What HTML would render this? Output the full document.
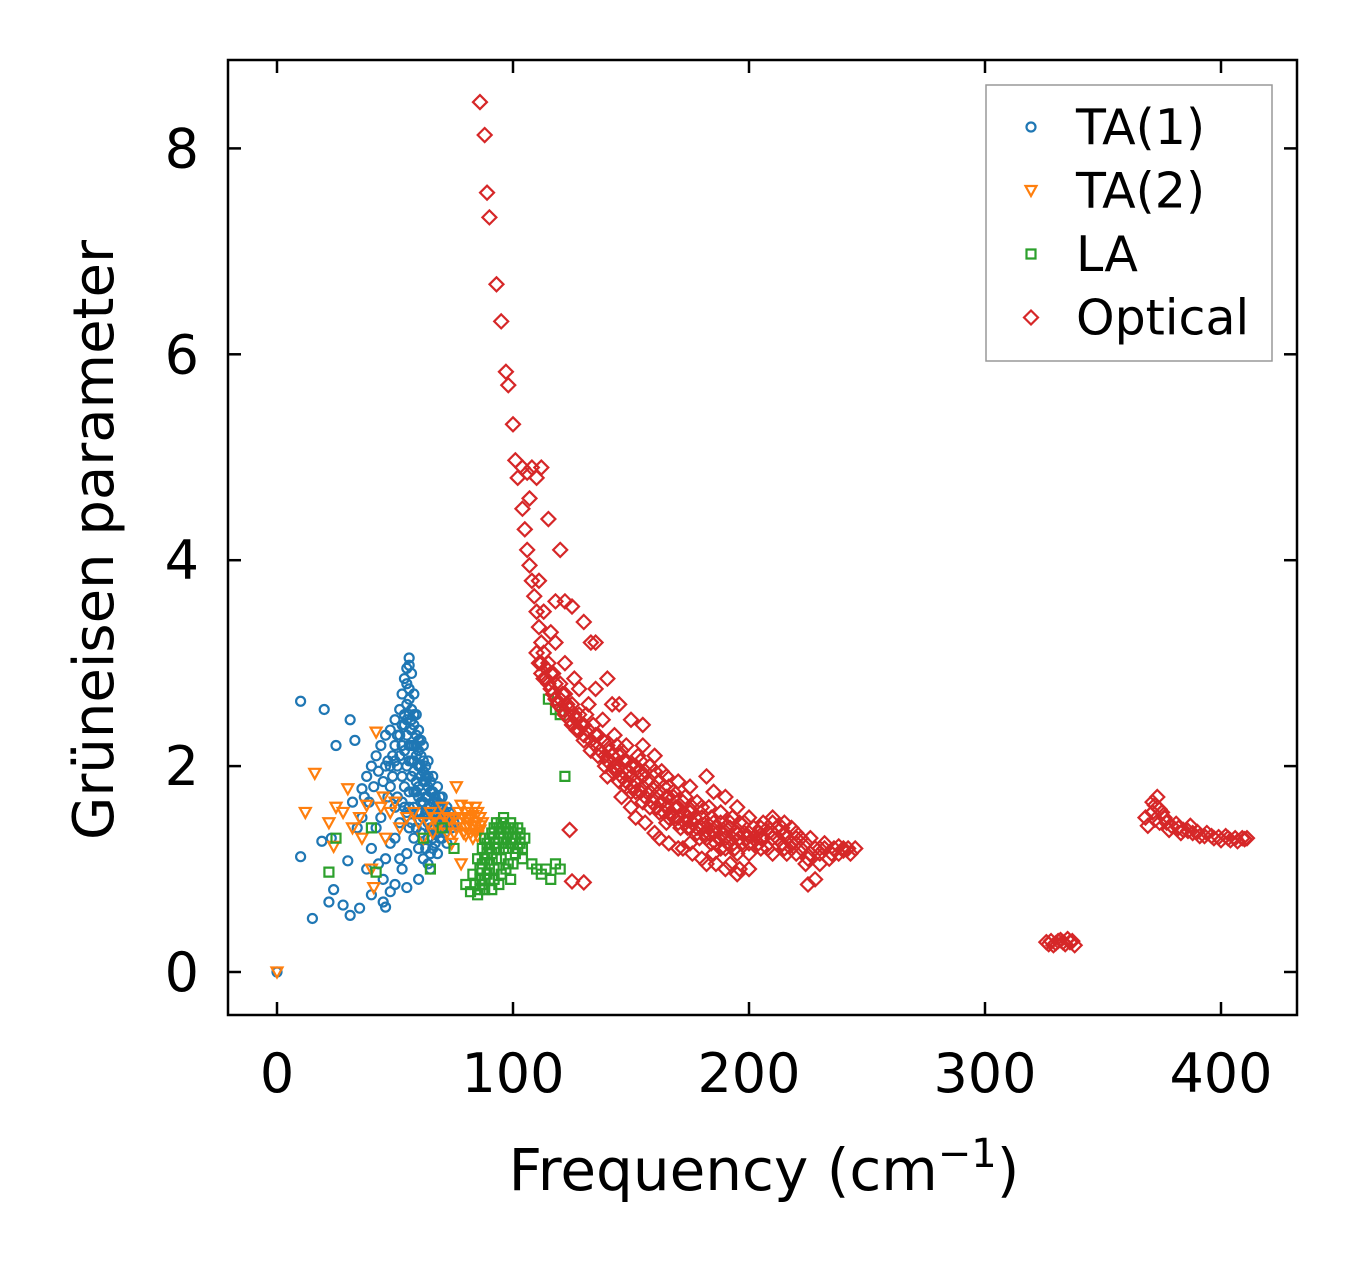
<!DOCTYPE html>
<html><head><meta charset="utf-8"><style>
body{margin:0;background:#fff;}
svg{display:block;font-family:"DejaVu Sans","Liberation Sans",sans-serif;}
</style></head><body>
<svg id="chart" width="1357" height="1264" viewBox="0 0 1357 1264" xmlns="http://www.w3.org/2000/svg">
<rect width="1357" height="1264" fill="#fff"/>
<g id="marks"></g>
<rect x="228" y="60" width="1069" height="955" fill="none" stroke="#000" stroke-width="2.5"/>
<g id="ticks"></g>
<text x="764" y="1190" font-size="58" text-anchor="middle">Frequency (cm<tspan font-size="40" dy="-23">−1</tspan><tspan dy="23">)</tspan></text>
<text transform="translate(113,540) rotate(-90)" font-size="56" text-anchor="middle">Grüneisen parameter</text>
<g>
<rect x="986" y="85" width="286" height="276" fill="#fff" stroke="#999" stroke-width="1.5"/>
<g id="legend-items"></g>
</g>
</svg>
<script>
const xTicks=[0,100,200,300,400];
const yTicks=[0,2,4,6,8];
const seriesNames=["TA(1)","TA(2)","LA","Optical"];
const ta1=[[0,0],[10,2.63],[10,1.12],[20,2.55],[25,2.2],[31,2.45],[33,2.25],[15,0.52],[22,0.68],[24,0.8],[28,0.65],[31,0.55],[35,0.62],[40,0.75],[45,0.68],[46,0.63],[19,1.27],[23,1.3],[30,1.08],[32,1.65],[36,1.78],[38,1.9],[40,2.0],[42,2.1],[44,2.2],[46,2.3],[48,2.35],[50,2.45],[52,2.55],[53,2.7],[54,2.85],[55,2.95],[56,3.05],[56,2.98],[57,2.9],[58,2.7],[59,2.5],[60,2.35],[62,2.2],[64,2.05],[66,1.9],[68,1.8],[70,1.7],[72,1.6],[74,1.5],[70,1.3],[65,1.0],[60,0.9],[55,0.82],[50,0.85],[48,0.78],[52,1.1],[56,1.4],[58,1.6],[60,1.8],[62,1.5],[64,1.3],[66,1.2],[68,1.15],[50,1.6],[48,1.8],[46,2.0],[44,1.5],[42,1.4],[40,1.2],[38,1.0],[36,1.5],[34,1.4],[55,2.0],[57,2.2],[53,1.9],[51,1.7],[54,2.4],[55,2.6],[56,2.75],[57,2.55],[58,2.4],[58,2.2],[59,2.1],[60,2.0],[61,2.25],[61,1.9],[62,1.85],[63,2.0],[63,1.7],[64,1.8],[65,1.75],[65,1.6],[66,1.65],[67,1.7],[67,1.5],[68,1.55],[69,1.6],[69,1.45],[70,1.5],[71,1.55],[72,1.4],[73,1.45],[52,2.3],[53,2.2],[54,2.15],[50,2.2],[51,2.0],[49,2.1],[47,2.05],[47,1.7],[45,1.85],[43,1.95],[41,1.8],[39,1.65],[37,1.7],[57,1.9],[59,1.75],[61,1.65],[56,1.75],[54,1.6],[52,1.45],[50,1.3],[48,1.25],[46,1.1],[58,1.3],[60,1.2],[62,1.1],[64,1.05],[55,1.15],[53,1.0],[45,0.9],[43,1.05],[66,1.4],[68,1.35],[70,1.4],[72,1.25],[56,2.5],[55,2.3],[58,2.05],[55,2.8],[56,2.65],[57,2.45],[57,2.35],[58,2.5],[59,2.3],[59,2.2],[60,2.15],[60,2.25],[61,2.1],[61,2.0],[62,2.05],[62,1.95],[63,1.9],[63,1.85],[64,1.9],[64,1.7],[65,1.85],[66,1.75],[66,1.55],[67,1.6],[68,1.65],[68,1.45],[69,1.7],[70,1.6],[71,1.45],[72,1.5],[73,1.55],[74,1.4],[75,1.45],[54,2.5],[55,2.45],[56,2.2],[56,2.05],[57,2.05],[58,1.95],[59,1.85],[60,1.7],[61,1.55],[62,1.65],[63,1.55],[64,1.45],[65,1.4],[66,1.3],[67,1.35],[53,2.4],[52,2.1],[51,2.3],[50,2.05],[49,1.9],[48,2.0],[54,1.8],[53,1.65],[55,1.55],[57,1.45],[59,1.4],[61,1.35],[63,1.2],[65,1.15],[67,1.25],[69,1.3],[71,1.35],[60,1.55],[58,1.75],[56,1.6]];
const ta2=[[0,0],[12,1.55],[16,1.93],[22,1.45],[25,1.6],[24,1.22],[30,1.78],[35,1.5],[38,1.62],[40,1.0],[41,0.82],[42,2.33],[45,1.7],[48,1.55],[50,1.65],[55,1.5],[60,1.45],[65,1.55],[70,1.6],[75,1.5],[76,1.8],[78,1.05],[80,1.4],[82,1.5],[84,1.45],[86,1.38],[85,1.55],[83,1.3],[81,1.6],[79,1.35],[77,1.45],[74,1.25],[72,1.35],[68,1.4],[62,1.3],[58,1.55],[52,1.4],[46,1.3],[44,1.6],[36,1.3],[32,1.4],[28,1.55],[84,1.6],[86,1.5],[83,1.42],[81,1.48],[80,1.55],[78,1.62],[87,1.45],[82,1.35],[84,1.38],[85,1.32],[86,1.42],[83,1.52],[81,1.42],[80,1.33],[79,1.5],[77,1.55],[76,1.4],[75,1.35],[73,1.48],[71,1.5],[69,1.45],[67,1.5],[64,1.45],[66,1.35]];
const la=[[22,0.97],[25,1.3],[40,1.4],[42,0.97],[62,1.3],[65,1.0],[70,1.4],[75,1.2],[80,0.85],[82,0.78],[85,0.75],[88,0.8],[90,0.9],[92,1.0],[95,1.1],[98,1.2],[100,1.3],[102,1.4],[96,1.5],[93,1.45],[88,1.3],[85,1.1],[83,0.95],[90,1.2],[94,0.85],[99,0.9],[104,1.1],[108,1.05],[110,1.0],[112,0.95],[114,1.0],[116,0.9],[118,1.05],[120,1.0],[115,2.65],[118,2.55],[120,2.5],[122,1.9],[87,1.05],[91,1.35],[97,1.25],[101,1.15],[103,1.25],[86,0.9],[89,1.15],[95,1.35],[99,1.45],[105,1.3],[92,1.25],[94,1.4],[96,1.2],[98,1.35],[100,1.05],[89,0.95],[91,0.8],[87,1.2],[93,1.1],[102,1.2],[84,0.85],[90,1.05],[86,1.0],[88,1.1],[89,1.25],[90,1.3],[91,1.15],[92,1.4],[93,1.2],[94,1.3],[95,1.45],[96,1.3],[97,1.4],[98,1.05],[99,1.25],[100,1.4],[101,1.3],[103,1.35],[104,1.2],[88,0.9],[86,0.8],[92,0.9],[95,0.95],[97,1.0],[90,1.0],[87,0.85]];
const optical=[[86,8.45],[88,8.13],[89,7.57],[90,7.33],[93,6.68],[95,6.32],[97,5.83],[98,5.7],[100,5.32],[101,4.97],[102,4.8],[104,4.9],[106,4.85],[108,4.9],[110,4.8],[104,4.5],[105,4.3],[106,4.1],[107,3.95],[108,3.8],[109,3.65],[110,3.5],[111,3.35],[112,3.2],[113,3.1],[115,3.0],[117,2.9],[120,2.8],[122,2.7],[125,2.6],[128,2.5],[130,2.4],[135,2.3],[140,2.2],[145,2.1],[150,2.0],[155,1.9],[160,1.8],[165,1.7],[170,1.6],[175,1.55],[180,1.5],[185,1.45],[190,1.4],[200,1.35],[210,1.3],[220,1.25],[230,1.2],[240,1.2],[245,1.2],[140,1.9],[150,1.6],[160,1.35],[170,1.2],[180,1.1],[190,1.0],[195,0.95],[200,1.0],[225,0.85],[228,0.9],[115,4.4],[120,4.1],[118,3.6],[122,3.6],[125,3.55],[130,3.4],[133,3.2],[135,3.2],[140,2.85],[145,2.6],[150,2.45],[155,2.2],[160,2.1],[165,1.9],[170,1.85],[175,1.8],[182,1.9],[185,1.75],[190,1.7],[195,1.6],[200,1.5],[210,1.5],[215,1.45],[218,1.4],[124,1.38],[125,0.88],[130,0.87],[112,3.0],[114,2.85],[116,2.75],[118,2.65],[121,2.55],[124,2.45],[127,2.35],[130,2.25],[133,2.15],[136,2.1],[139,2.0],[142,1.95],[145,1.85],[148,1.8],[152,1.75],[155,1.65],[158,1.6],[162,1.55],[166,1.5],[170,1.45],[174,1.4],[178,1.35],[182,1.3],[186,1.25],[190,1.2],[195,1.15],[200,1.15],[205,1.2],[210,1.15],[215,1.2],[220,1.15],[225,1.1],[230,1.05],[235,1.15],[132,2.6],[138,2.45],[143,2.3],[148,2.2],[153,2.1],[158,2.0],[163,1.95],[168,1.75],[173,1.7],[178,1.65],[183,1.6],[188,1.55],[193,1.5],[198,1.45],[205,1.4],[212,1.4],[220,1.35],[226,1.3],[232,1.25],[238,1.22],[118,3.2],[122,3.0],[126,2.85],[128,2.75],[112,4.9],[107,4.6],[111,3.8],[113,3.5],[116,3.3],[150,1.75],[165,1.45],[175,1.25],[185,1.15],[155,2.4],[135,2.75],[142,2.6],[160,1.95],[210,1.45],[205,1.3],[215,1.35],
[110,3.1],[111,3.0],[112,2.9],[113,2.85],[114,2.95],[115,2.8],[116,2.9],[117,2.7],[118,2.8],[119,2.6],[120,2.65],[121,2.7],[122,2.5],[123,2.6],[124,2.55],[125,2.4],[126,2.5],[127,2.45],[128,2.35],[129,2.4],[130,2.3],[131,2.5],[132,2.35],[133,2.25],[134,2.4],[135,2.2],[136,2.3],[137,2.15],[138,2.25],[139,2.1],[140,2.05],[141,2.15],[142,2.1],[143,2.0],[144,1.95],[145,2.0],[146,1.9],[147,2.05],[148,1.85],[149,1.95],[150,1.9],[151,1.8],[152,1.85],[153,1.95],[154,1.75],[155,1.8],[156,1.7],[157,1.85],[158,1.75],[159,1.65],[160,1.7],[161,1.6],[162,1.75],[163,1.65],[164,1.55],[165,1.6],[166,1.7],[167,1.55],[168,1.5],[169,1.6],[170,1.5],[171,1.4],[172,1.55],[173,1.45],[174,1.5],[175,1.4],[176,1.45],[177,1.5],[178,1.4],[179,1.3],[180,1.4],[181,1.35],[182,1.45],[183,1.35],[184,1.25],[185,1.35],[186,1.4],[187,1.3],[188,1.2],[189,1.35],[190,1.3],[191,1.25],[192,1.4],[193,1.3],[194,1.2],[195,1.35],[196,1.3],[197,1.25],[198,1.35],[199,1.3],[200,1.25],[202,1.4],[204,1.35],[206,1.3],[208,1.4],[210,1.35],[212,1.3],[214,1.4],[216,1.3],[218,1.25],[220,1.3],[222,1.2],[224,1.25],[226,1.15],[228,1.2],[230,1.15],[232,1.2],[234,1.1],[236,1.2],[238,1.15],[240,1.18],[242,1.2],[243,1.15],
[144,2.2],[146,2.15],[148,2.05],[152,2.0],[154,2.05],[156,1.95],[162,1.85],[164,1.8],[166,1.8],[168,1.7],[172,1.65],[176,1.6],[180,1.6],[184,1.5],[188,1.45],[192,1.45],[196,1.45],[202,1.3],[204,1.25],[206,1.45],[208,1.2],[214,1.25],[216,1.15],[218,1.2],[222,1.3],[224,1.05],[146,1.7],[152,1.5],[156,1.45],[162,1.3],[166,1.25],[172,1.2],[176,1.15],[182,1.05],[186,1.05],[192,1.05],[196,1.0],
[326,0.29],[328,0.3],[330,0.28],[332,0.31],[336,0.29],[338,0.26],[327,0.27],[329,0.26],[331,0.3],[333,0.29],[334,0.27],[335,0.32],[337,0.3],[368,1.5],[371,1.55],[371,1.65],[373,1.6],[375,1.55],[377,1.45],[379,1.42],[382,1.4],[384,1.38],[388,1.35],[393,1.32],[397,1.3],[403,1.3],[410,1.29],[369,1.42],[372,1.48],[374,1.45],[376,1.5],[378,1.38],[381,1.44],[383,1.35],[386,1.37],[387,1.42],[390,1.36],[391,1.32],[394,1.35],[396,1.32],[399,1.31],[400,1.28],[402,1.32],[404,1.28],[406,1.3],[407,1.27],[409,1.3],[411,1.3],[373,1.7],[374,1.58],[372,1.62]];
const X=v=>277+v*2.36;
const Y=v=>972-v*102.95;
const NS="http://www.w3.org/2000/svg";
const colors=["#1f77b4","#ff7f0e","#2ca02c","#d62728"];
function marker(type,cx,cy,c){
  let el;
  if(type===0){el=document.createElementNS(NS,"circle");el.setAttribute("cx",cx);el.setAttribute("cy",cy);el.setAttribute("r",4.5);}
  else{el=document.createElementNS(NS,"polygon");let p;
    if(type===1)p=[[cx-5.5,cy-4.5],[cx+5.5,cy-4.5],[cx,cy+5.5]];
    else if(type===2)p=[[cx-4.5,cy-4.5],[cx+4.5,cy-4.5],[cx+4.5,cy+4.5],[cx-4.5,cy+4.5]];
    else p=[[cx,cy-7],[cx+7,cy],[cx,cy+7],[cx-7,cy]];
    el.setAttribute("points",p.map(q=>q.join(",")).join(" "));}
  el.setAttribute("fill","none");el.setAttribute("stroke",c);el.setAttribute("stroke-width",2.2);
  return el;
}
const marks=document.getElementById("marks");
[ta1,ta2,la,optical].forEach((s,i)=>{s.forEach(d=>{
  const m=marker(i,X(d[0]),Y(d[1]),colors[i]);
  
  
  marks.appendChild(m);});});
const tg=document.getElementById("ticks");
function line(x1,y1,x2,y2){const l=document.createElementNS(NS,"line");l.setAttribute("x1",x1);l.setAttribute("y1",y1);l.setAttribute("x2",x2);l.setAttribute("y2",y2);l.setAttribute("stroke","#000");l.setAttribute("stroke-width",2.5);
  
  
  tg.appendChild(l);}
function txt(x,y,s,a){const t=document.createElementNS(NS,"text");t.setAttribute("x",x);t.setAttribute("y",y);t.setAttribute("font-size",54);t.setAttribute("text-anchor",a);t.textContent=s;
  
  
  tg.appendChild(t);}
xTicks.forEach(v=>{const x=X(v);line(x,1015,x,1002);line(x,60,x,73);txt(x,1092,v,"middle");});
yTicks.forEach(v=>{const y=Y(v);line(228,y,241,y);line(1297,y,1284,y);txt(199,y+19,v,"end");});
const lg=document.getElementById("legend-items");
seriesNames.forEach((n,i)=>{const y=127+i*63.5;
  const m=marker(i,1031,y,colors[i]);
  
  
  lg.appendChild(m);
  const t=document.createElementNS(NS,"text");t.setAttribute("x",1076);t.setAttribute("y",y+17);t.setAttribute("font-size",49);t.textContent=n;
  
  
  lg.appendChild(t);});
</script>
</body></html>
